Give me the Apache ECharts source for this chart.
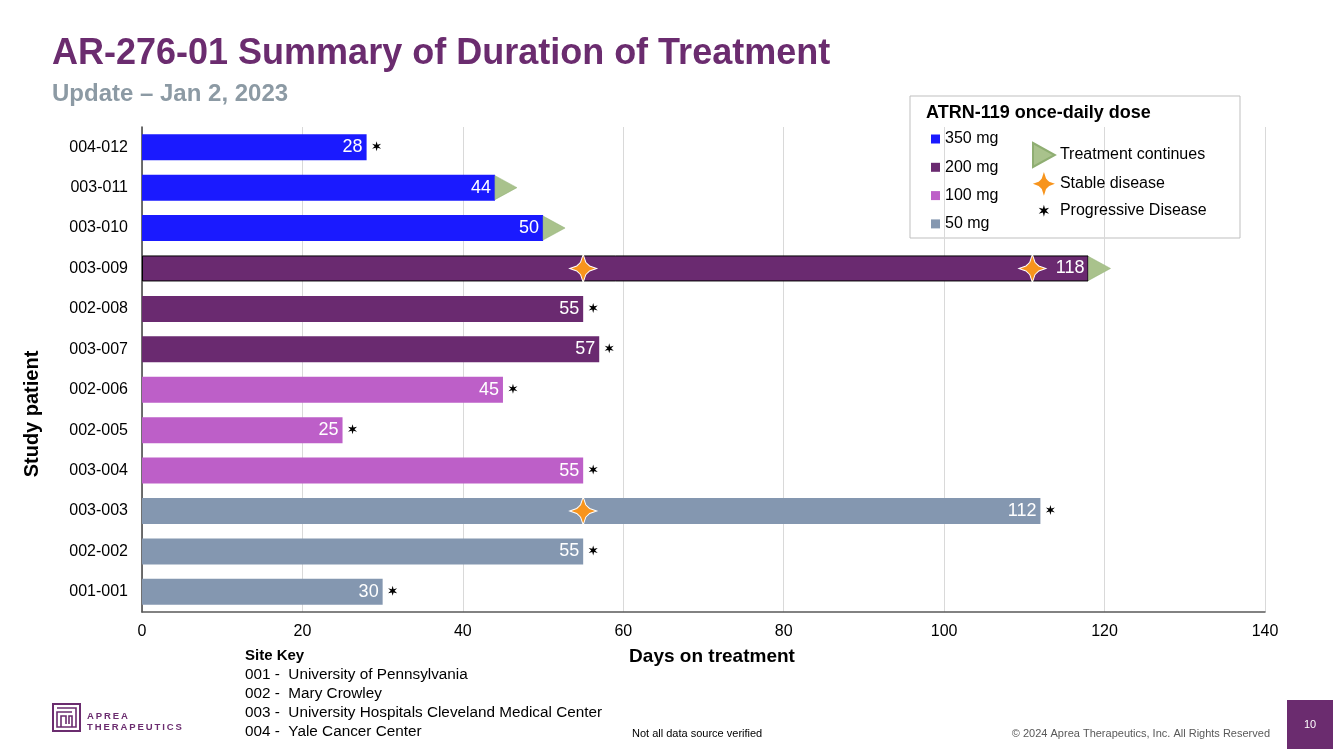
<!DOCTYPE html>
<html>
<head>
<meta charset="utf-8">
<script src="https://cdn.jsdelivr.net/npm/echarts@6/dist/echarts.min.js"></script>
<style>
html,body{margin:0;padding:0;background:#fff;}
#chart{width:1333px;height:749px;}
</style>
</head>
<body>
<div id="chart"></div>
<script>
// ---------- data ----------
const patients = ['004-012','003-011','003-010','003-009','002-008','003-007','002-006','002-005','003-004','003-003','002-002','001-001'];
const days     = [28, 44, 50, 118, 55, 57, 45, 25, 55, 112, 55, 30];
const patientDose = ['350 mg','350 mg','350 mg','200 mg','200 mg','200 mg','100 mg','100 mg','100 mg','50 mg','50 mg','50 mg'];
const treatmentContinues = [false, true, true, true, false, false, false, false, false, false, false, false];
const progressiveDisease = [true, false, false, false, true, true, true, true, true, true, true, true];
const stableDiseaseDays = [55, 111, 55];
const stableDiseasePatients = ['003-009', '003-009', '003-003'];
const doseLevels = ['350 mg','200 mg','100 mg','50 mg'];
const doseColors = ['#1a1aff','#6a2a70','#bd5fc8','#8497b0'];
const xTicks = {min: 0, max: 140, interval: 20};
const siteKey = ['001 -  University of Pennsylvania','002 -  Mary Crowley','003 -  University Hospitals Cleveland Medical Center','004 -  Yale Cancer Center'];

// ---------- shapes ----------
const FONT = 'Liberation Sans, Arial, sans-serif';
const PURPLE = '#6b2c6f';
const triPath = 'path://M0,0 L20,11 L0,22 Z';
const starPath = 'path://M0,-14 L2.5,-6.2 L4.3,-4.3 L6.2,-2.5 L13,0 L6.2,2.5 L4.3,4.3 L2.5,6.2 L0,14 L-2.5,6.2 L-4.3,4.3 L-6.2,2.5 L-13,0 L-6.2,-2.5 L-4.3,-4.3 L-2.5,-6.2 Z';
const astBody = 'M0,-6 L1.1,-1.9 L5.2,-3 L2.2,0 L5.2,3 L1.1,1.9 L0,6 L-1.1,1.9 L-5.2,3 L-2.2,0 L-5.2,-3 L-1.1,-1.9 Z';
const astPath = 'path://' + astBody;
const astLegendPath = 'path://M-11,-11 L-11,-11 Z M11,11 L11,11 Z ' + astBody;

const barSeries = doseLevels.map((d, k) => ({
  name: d,
  type: 'bar',
  stack: 'total',
  barWidth: 26,
  itemStyle: {color: doseColors[k]},
  label: {show: true, position: 'insideRight', distance: 4, color: '#fff', fontSize: 18, fontFamily: FONT,
          formatter: p => p.value},
  data: patients.map((p, i) => patientDose[i] === d
      ? (p === '003-009' ? {value: days[i], itemStyle: {borderColor: '#000', borderWidth: 1}} : days[i])
      : '-')
}));

const contData = patients.map((p, i) => treatmentContinues[i] ? [days[i], p] : null).filter(Boolean);
const pdData = patients.map((p, i) => progressiveDisease[i] ? [days[i], p] : null).filter(Boolean);
const sdData = stableDiseaseDays.map((v, i) => [v, stableDiseasePatients[i]]);

const chart = echarts.init(document.getElementById('chart'), null, {renderer: 'canvas'});
chart.setOption({
  animation: false,
  textStyle: {fontFamily: FONT},
  grid: {left: 142, right: 68, top: 127, bottom: 137, containLabel: false},
  xAxis: {
    type: 'value', min: xTicks.min, max: xTicks.max, interval: xTicks.interval,
    axisLine: {show: true, lineStyle: {color: '#595959', width: 1.5}},
    axisTick: {show: false},
    axisLabel: {color: '#000', fontSize: 16, margin: 12, fontFamily: FONT},
    splitLine: {show: true, lineStyle: {color: '#d9d9d9', width: 1}}
  },
  yAxis: {
    type: 'category', data: patients, inverse: true,
    axisLine: {show: true, lineStyle: {color: '#404040', width: 1.5}},
    axisTick: {show: false},
    axisLabel: {color: '#000', fontSize: 16, margin: 14, fontFamily: FONT}
  },
  legend: [
    {
      data: doseLevels, orient: 'vertical', left: 931, top: 130, padding: 0,
      icon: 'rect', itemWidth: 9, itemHeight: 9, itemGap: 10.3,
      textStyle: {fontSize: 16, color: '#000', fontFamily: FONT, lineHeight: 18},
      selectedMode: false
    },
    {
      data: [
        {name: 'Treatment continues', icon: triPath},
        {name: 'Stable disease', icon: starPath, itemStyle: {borderWidth: 0}},
        {name: 'Progressive Disease', icon: astLegendPath}
      ],
      orient: 'vertical', left: 1032, top: 142, padding: 0,
      itemWidth: 22, itemHeight: 24, itemGap: 4,
      textStyle: {fontSize: 16, color: '#000', fontFamily: FONT},
      selectedMode: false
    }
  ],
  series: barSeries.concat([
    {
      name: 'Treatment continues', type: 'scatter', z: 5,
      symbol: triPath, symbolSize: [22, 24], symbolOffset: [11, 0],
      itemStyle: {color: '#a9c28c', borderColor: '#8fae72', borderWidth: 0.5, opacity: 1},
      data: contData
    },
    {
      name: 'Stable disease', type: 'scatter', z: 6,
      symbol: starPath, symbolSize: [27, 28],
      itemStyle: {color: '#f7941d', borderColor: '#fff', borderWidth: 1, opacity: 1},
      data: sdData
    },
    {
      name: 'Progressive Disease', type: 'scatter', z: 5,
      symbol: astPath, symbolSize: [9, 10], symbolOffset: [10, -1],
      itemStyle: {color: '#000', opacity: 1},
      data: pdData
    }
  ]),
  graphic: [
    {type: 'text', left: 52, top: 36, style: {text: 'AR-276-01 Summary of Duration of Treatment', font: 'bold 36px ' + FONT, fill: PURPLE}},
    {type: 'text', left: 52, top: 82, style: {text: 'Update – Jan 2, 2023', font: 'bold 24px ' + FONT, fill: '#8c9aa4'}},
    {type: 'rect', shape: {x: 910, y: 96, width: 330, height: 142}, style: {fill: 'none', stroke: '#bfbfbf', lineWidth: 1}},
    {type: 'text', x: 926, y: 113, style: {text: 'ATRN-119 once-daily dose', font: 'bold 18px ' + FONT, fill: '#000', verticalAlign: 'middle'}},
    {type: 'text', x: 712, y: 657, style: {text: 'Days on treatment', font: 'bold 19px ' + FONT, fill: '#000', align: 'center', verticalAlign: 'middle'}},
    {type: 'text', x: 32, y: 414, rotation: Math.PI / 2, style: {text: 'Study patient', font: 'bold 20px ' + FONT, fill: '#000', align: 'center', verticalAlign: 'middle'}},
    {type: 'text', x: 245, y: 656, style: {text: 'Site Key', font: 'bold 15px ' + FONT, fill: '#000', verticalAlign: 'middle'}},
    {type: 'text', x: 245, y: 675, style: {text: siteKey[0], font: '15.3px ' + FONT, fill: '#000', verticalAlign: 'middle'}},
    {type: 'text', x: 245, y: 694, style: {text: siteKey[1], font: '15.3px ' + FONT, fill: '#000', verticalAlign: 'middle'}},
    {type: 'text', x: 245, y: 713, style: {text: siteKey[2], font: '15.3px ' + FONT, fill: '#000', verticalAlign: 'middle'}},
    {type: 'text', x: 245, y: 732, style: {text: siteKey[3], font: '15.3px ' + FONT, fill: '#000', verticalAlign: 'middle'}},
    {type: 'text', x: 632, y: 734, style: {text: 'Not all data source verified', font: '11px ' + FONT, fill: '#000', verticalAlign: 'middle'}},
    {type: 'text', x: 1270, y: 734, style: {text: '© 2024 Aprea Therapeutics, Inc. All Rights Reserved', font: '11px ' + FONT, fill: '#595959', align: 'right', verticalAlign: 'middle'}},
    {type: 'rect', shape: {x: 1287, y: 700, width: 46, height: 49}, style: {fill: PURPLE}},
    {type: 'text', x: 1310, y: 725, style: {text: '10', font: '11px ' + FONT, fill: '#fff', align: 'center', verticalAlign: 'middle'}},
    // logo
    {type: 'rect', shape: {x: 53, y: 704, width: 27, height: 27}, style: {fill: 'none', stroke: PURPLE, lineWidth: 2}},
    {type: 'polyline', shape: {points: [[57,708],[76,708],[76,727],[57,727],[57,712],[72,712]]}, style: {fill: 'none', stroke: PURPLE, lineWidth: 1.6}},
    {type: 'polyline', shape: {points: [[61,727],[61,716],[66,716],[66,724]]}, style: {fill: 'none', stroke: PURPLE, lineWidth: 1.6}},
    {type: 'polyline', shape: {points: [[69,724],[69,716],[72,716],[72,727]]}, style: {fill: 'none', stroke: PURPLE, lineWidth: 1.6}},
    {type: 'text', x: 87, y: 716, style: {text: 'A\u2009P\u2009R\u2009E\u2009A', font: 'bold 9.5px ' + FONT, fill: PURPLE, verticalAlign: 'middle'}},
    {type: 'text', x: 87, y: 727, style: {text: 'T\u2009H\u2009E\u2009R\u2009A\u2009P\u2009E\u2009U\u2009T\u2009I\u2009C\u2009S', font: 'bold 9.5px ' + FONT, fill: PURPLE, verticalAlign: 'middle'}}
  ]
});
</script>
</body>
</html>
